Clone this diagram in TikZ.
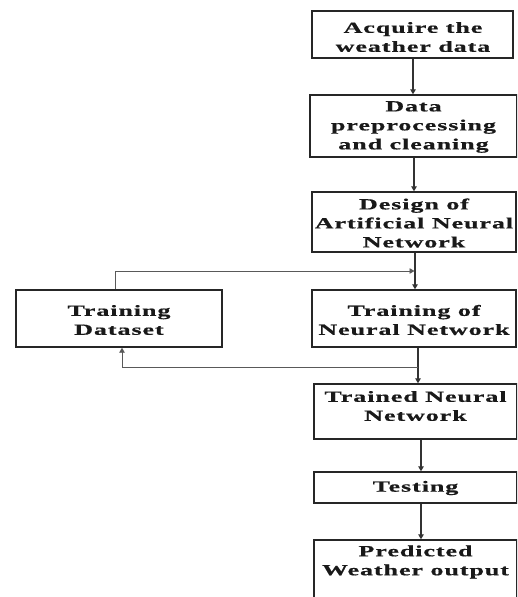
\documentclass[tikz,border=0pt]{standalone}
\usepackage{fontspec}
\newfontfamily\boxfont{Liberation Serif}[FakeStretch=1.68,LetterSpace=6,FakeBold=0.6]
\usetikzlibrary{arrows.meta}
\tikzset{
  box/.style={draw=black!85, line width=1.4pt, fill=white, inner sep=0pt},
  txt/.style={align=center, font=\boxfont\bfseries\fontsize{15.5}{19}\selectfont, text=black!90, inner sep=0pt},
  arr/.style={draw=black!80, line width=1.1pt, -{Triangle[length=5pt,width=5.5pt]}},
  fb/.style={draw=black!65, line width=0.9pt},
  fbarr/.style={fb, -{Triangle[length=5pt,width=5.5pt]}}
}
\begin{document}
\begin{tikzpicture}[x=1pt,y=-1pt]
\useasboundingbox (0,0) rectangle (517,597);
\clip (0,0) rectangle (517,597);
\node[box, minimum width=201pt, minimum height=47pt] (a) at (412.5,34.5) {};
\node[txt] (at) at (413,37) {Acquire the\\weather data};
\node[box, minimum width=207pt, minimum height=62pt] (b) at (413.5,126) {};
\node[txt] (bt) at (413.5,127) {Data\\preprocessing\\and cleaning};
\node[box, minimum width=204pt, minimum height=60pt] (c) at (414,222) {};
\node[txt] (ct) at (414,223) {Design of\\Artificial Neural\\Network};
\node[box, minimum width=204pt, minimum height=57pt] (d) at (414,318.5) {};
\node[txt] (dt) at (414,320) {Training of\\Neural Network};
\node[box, minimum width=206pt, minimum height=57pt] (e) at (119,318.5) {};
\node[txt] (et) at (119,320) {Training\\Dataset};
\node[box, minimum width=203pt, minimum height=55pt] (f) at (415.5,411.5) {};
\node[txt] (ft) at (415.5,406) {Trained Neural\\Network};
\node[box, minimum width=203pt, minimum height=31pt] (g) at (415.5,487.5) {};
\node[txt] (gt) at (415.5,488) {Testing};
\node[box, minimum width=203pt, minimum height=80pt] (h) at (415.5,580) {};
\node[txt] (ht) at (415.5,562) {Predicted\\Weather output};
% main flow
\draw[arr] (a.south -| 413,0) -- (b.north -| 413,0);
\draw[arr] (b.south -| 414,0) -- (c.north -| 414,0);
\draw[arr] (c.south -| 415,0) -- (d.north -| 415,0);
\draw[arr] (d.south -| 418,0) -- (f.north -| 418,0);
\draw[arr] (f.south -| 421,0) -- (g.north -| 421,0);
\draw[arr] (g.south -| 421,0) -- (h.north -| 421,0);
% feedback
\coordinate (t1) at (115,271);
\coordinate (t2) at (414.5,271);
\draw[fbarr] (e.north -| t1) -- (t1) -- (t2);
\coordinate (u1) at (418,367);
\coordinate (u2) at (122,367);
\draw[fbarr] (u1) -- (u2) -- (e.south -| u2);
\end{tikzpicture}
\end{document}
